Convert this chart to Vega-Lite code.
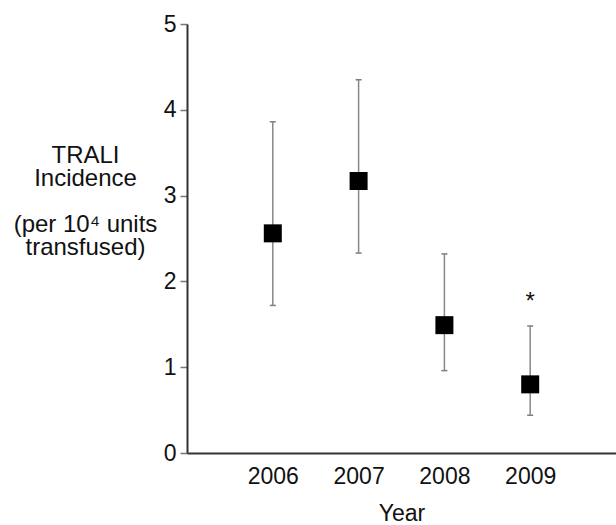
{
  "$schema": "https://vega.github.io/schema/vega-lite/v6.json",
  "width": 429,
  "height": 429,
  "autosize": {"type": "none"},
  "padding": {"left": 187, "top": 24, "right": 0, "bottom": 72},
  "background": "white",
  "config": {
    "view": {"stroke": null},
    "font": "Liberation Sans",
    "axis": {"grid": false, "labelColor": "#111", "titleColor": "#111", "labelFontSize": 23, "titleFontSize": 23, "titleFontWeight": "normal", "domainColor": "#333", "domainWidth": 2}
  },
  "data": {
    "values": [
      {"year": 2006, "rate": 2.56, "low": 1.72, "high": 3.86},
      {"year": 2007, "rate": 3.17, "low": 2.33, "high": 4.35},
      {"year": 2008, "rate": 1.49, "low": 0.96, "high": 2.32},
      {"year": 2009, "rate": 0.80, "low": 0.44, "high": 1.48, "note": "*", "noteY": 1.68}
    ]
  },
  "layer": [
    {
      "mark": {"type": "errorbar", "ticks": {"color": "#444", "size": 6, "thickness": 1.5}, "rule": {"color": "#888", "strokeWidth": 1.5}},
      "encoding": {
        "x": {
          "field": "year", "type": "quantitative",
          "scale": {"domain": [2005, 2010], "nice": false},
          "axis": {"values": [2006, 2007, 2008, 2009], "format": "d", "ticks": false, "labelPadding": 12, "title": "Year", "titlePadding": 14}
        },
        "y": {
          "field": "low", "type": "quantitative",
          "scale": {"domain": [0, 5], "nice": false},
          "axis": {
            "values": [0, 0.5, 1, 1.5, 2, 2.5, 3, 3.5, 4, 4.5, 5],
            "format": "d",
            "labelExpr": "datum.value % 1 === 0 ? format(datum.value, 'd') : ''",
            "tickSize": {"condition": {"test": "datum.value % 1 === 0", "value": 7}, "value": -5},
            "tickColor": {"condition": {"test": "datum.value % 1 === 0", "value": "#777"}, "value": "#d0d0d0"},
            "tickWidth": 1.5,
            "labelPadding": 4,
            "title": ["TRALI", "Incidence", "\u200b", "(per 10⁴ units", "transfused)"],
            "titleFontSize": 24,
            "titleAngle": 0, "titleX": -102, "titleY": 138, "titleAlign": "center", "titleBaseline": "alphabetic", "titleLineHeight": 23
          }
        },
        "y2": {"field": "high"}
      }
    },
    {
      "mark": {"type": "point", "shape": "square", "filled": true, "color": "black", "size": 324, "opacity": 1},
      "encoding": {
        "x": {"field": "year", "type": "quantitative"},
        "y": {"field": "rate", "type": "quantitative"}
      }
    },
    {
      "transform": [{"filter": "datum.note != null"}],
      "mark": {"type": "text", "fontSize": 24, "baseline": "alphabetic", "color": "#111"},
      "encoding": {
        "x": {"field": "year", "type": "quantitative"},
        "y": {"field": "noteY", "type": "quantitative"},
        "text": {"field": "note"}
      }
    }
  ]
}
